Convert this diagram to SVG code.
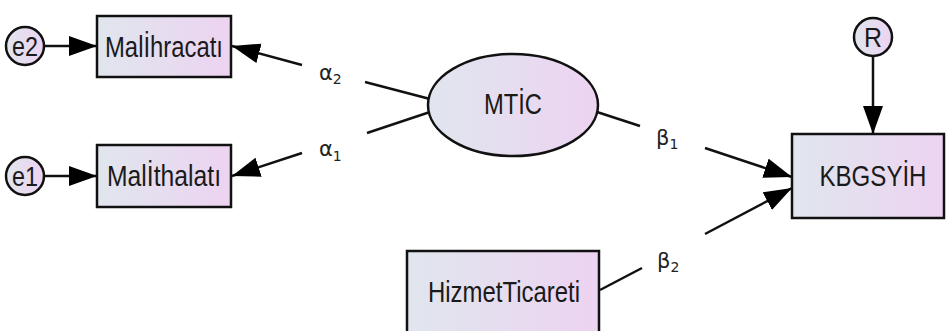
<svg xmlns="http://www.w3.org/2000/svg" width="946" height="331" viewBox="0 0 946 331">
<defs>
<linearGradient id="fillg" x1="0" y1="0" x2="1" y2="0">
<stop offset="0" stop-color="#e0e6ee"/>
<stop offset="1" stop-color="#edd3f1"/>
</linearGradient>
<marker id="ah" markerUnits="userSpaceOnUse" markerWidth="30" markerHeight="22" refX="28" refY="10" orient="auto" viewBox="0 0 30 22">
<path d="M0,0 L28,10 L0,20 Z" fill="#000"/>
</marker>
<style>
.shape{fill:url(#fillg);stroke:#111;stroke-width:2.5}
.lbl{font-family:"Liberation Sans",Arial,sans-serif;font-size:30px;fill:#1a1a1a;text-anchor:middle}
.sm{font-family:"Liberation Sans",Arial,sans-serif;font-size:27px;fill:#1a1a1a;text-anchor:middle}
.gk{font-family:"DejaVu Sans","Noto Sans",sans-serif;font-size:21px;fill:#222}
.sub{font-size:14px}
.ln{stroke:#111;stroke-width:2.5;fill:none}
</style>
</defs>
<g id="connectors">
<line class="ln" x1="45" y1="46" x2="97" y2="46" marker-end="url(#ah)"/>
<line class="ln" x1="45" y1="176" x2="97" y2="176" marker-end="url(#ah)"/>
<line class="ln" x1="430" y1="99" x2="365" y2="82"/>
<line class="ln" x1="302" y1="65" x2="232" y2="46" marker-end="url(#ah)"/>
<line class="ln" x1="430" y1="112" x2="367" y2="133"/>
<line class="ln" x1="302" y1="153" x2="232" y2="176" marker-end="url(#ah)"/>
<line class="ln" x1="597" y1="112" x2="640" y2="126"/>
<line class="ln" x1="705" y1="148" x2="792" y2="177" marker-end="url(#ah)"/>
<line class="ln" x1="600" y1="290" x2="642" y2="268"/>
<line class="ln" x1="705" y1="234" x2="792" y2="188" marker-end="url(#ah)"/>
<line class="ln" x1="873" y1="56" x2="873" y2="134" marker-end="url(#ah)"/>
<text class="gk" x="319" y="80">α<tspan class="sub" dy="4">2</tspan></text>
<text class="gk" x="319" y="156">α<tspan class="sub" dy="5">1</tspan></text>
<text class="gk" x="656" y="145">β<tspan class="sub" dy="4">1</tspan></text>
<text class="gk" x="657" y="268">β<tspan class="sub" dy="4">2</tspan></text>
</g>
<g id="e2">
<circle class="shape" cx="25" cy="46" r="19"/>
<text class="sm" x="25" y="56" textLength="26" lengthAdjust="spacingAndGlyphs">e2</text>
</g>
<g id="e1">
<circle class="shape" cx="25" cy="176" r="19"/>
<text class="sm" x="25" y="186" textLength="26" lengthAdjust="spacingAndGlyphs">e1</text>
</g>
<g id="MalIhracati">
<rect class="shape" x="97" y="16" width="134" height="61"/>
<text class="lbl" x="164" y="57" textLength="118" lengthAdjust="spacingAndGlyphs">Malİhracatı</text>
</g>
<g id="MalIthalati">
<rect class="shape" x="97" y="145" width="134" height="62"/>
<text class="lbl" x="164" y="186" textLength="114" lengthAdjust="spacingAndGlyphs">Malİthalatı</text>
</g>
<g id="MTIC">
<ellipse class="shape" cx="513" cy="105" rx="85" ry="51"/>
<text class="lbl" x="513" y="114" textLength="58" lengthAdjust="spacingAndGlyphs">MTİC</text>
</g>
<g id="R">
<circle class="shape" cx="873" cy="37" r="19"/>
<text class="sm" x="873" y="47" textLength="18" lengthAdjust="spacingAndGlyphs">R</text>
</g>
<g id="KBGSYIH">
<rect class="shape" x="792" y="134" width="152" height="84"/>
<text class="lbl" x="873" y="186" textLength="107" lengthAdjust="spacingAndGlyphs">KBGSYİH</text>
</g>
<g id="HizmetTicareti">
<rect class="shape" x="407" y="251" width="192" height="90"/>
<text class="lbl" x="504" y="302" textLength="152" lengthAdjust="spacingAndGlyphs">HizmetTicareti</text>
</g>
</svg>
